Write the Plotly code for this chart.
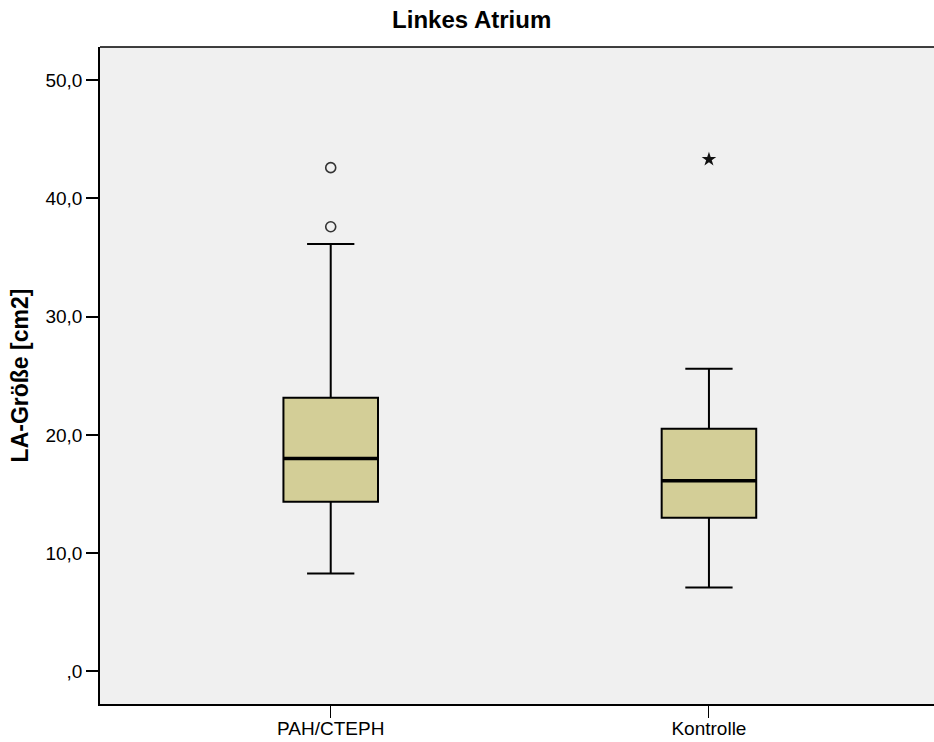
import plotly.graph_objects as go

categories = ["PAH/CTEPH", "Kontrolle"]
q1 = [14.35, 13.0]
median = [18.0, 16.13]
q3 = [23.15, 20.52]
lower = [8.28, 7.09]
upper = [36.15, 25.6]
outliers_x = ["PAH/CTEPH", "PAH/CTEPH"]
outliers_y = [42.6, 37.6]
extreme_x = ["Kontrolle"]
extreme_y = [43.3]
tick_vals = [0, 10, 20, 30, 40, 50]
tick_text = [",0", "10,0", "20,0", "30,0", "40,0", "50,0"]

BOX_W = 0.25
font = "Liberation Sans, Arial, Helvetica, sans-serif"

fig = go.Figure()
fig.add_trace(go.Box(
    x=categories, q1=q1, median=median, q3=q3,
    lowerfence=lower, upperfence=upper,
    width=BOX_W, whiskerwidth=0.5,
    fillcolor="#d3ce97", line=dict(color="#000000", width=2),
    boxpoints=False, showlegend=False, hoverinfo="skip",
))
# thicker median lines
for i, m in enumerate(median):
    fig.add_shape(type="line", xref="x", yref="y",
                  x0=i - BOX_W / 2, x1=i + BOX_W / 2, y0=m, y1=m,
                  line=dict(color="#000000", width=3.5))
# top border of plot area
fig.add_shape(type="line", xref="paper", yref="paper", x0=0, x1=1, y0=1, y1=1,
              line=dict(color="#000000", width=1.5))
fig.add_trace(go.Scatter(
    x=outliers_x, y=outliers_y, mode="markers",
    marker=dict(symbol="circle-open", size=10, color="#333333", line=dict(width=1.6)),
    showlegend=False, hoverinfo="skip",
))
fig.add_trace(go.Scatter(
    x=extreme_x, y=extreme_y, mode="markers",
    marker=dict(symbol="star", size=11, color="#111111"),
    showlegend=False, hoverinfo="skip",
))

fig.update_layout(
    width=934, height=742,
    margin=dict(l=100, r=0, t=47, b=38, autoexpand=False),
    paper_bgcolor="#ffffff", plot_bgcolor="#f0f0f0",
    font=dict(family=font, color="#000000", size=19),
    title=dict(text="<b>Linkes Atrium</b>", x=0.505, xref="container", xanchor="center",
               y=0.973, yref="container", yanchor="middle",
               font=dict(size=24, family=font, color="#000000")),
)
fig.update_xaxes(
    type="category", range=[-0.61, 1.595], automargin=False,
    showgrid=False, zeroline=False,
    showline=True, linecolor="#000000", linewidth=1.5, mirror=False,
    ticks="outside", ticklen=12, tickwidth=1.2, tickcolor="#000000",
    ticklabelstandoff=-6,
    tickfont=dict(size=19, family=font),
)
fig.update_yaxes(
    range=[-2.75, 52.8], automargin=False,
    tickvals=tick_vals, ticktext=tick_text,
    showgrid=False, zeroline=False,
    showline=True, linecolor="#000000", linewidth=1.5, mirror=False,
    ticks="outside", ticklen=12, tickwidth=1.5, tickcolor="#000000",
    tickfont=dict(size=19, family=font),
    title=dict(text="<b>LA-Größe [cm2]</b>", font=dict(size=23, family=font), standoff=10),
)

fig.write_html("out.html")
